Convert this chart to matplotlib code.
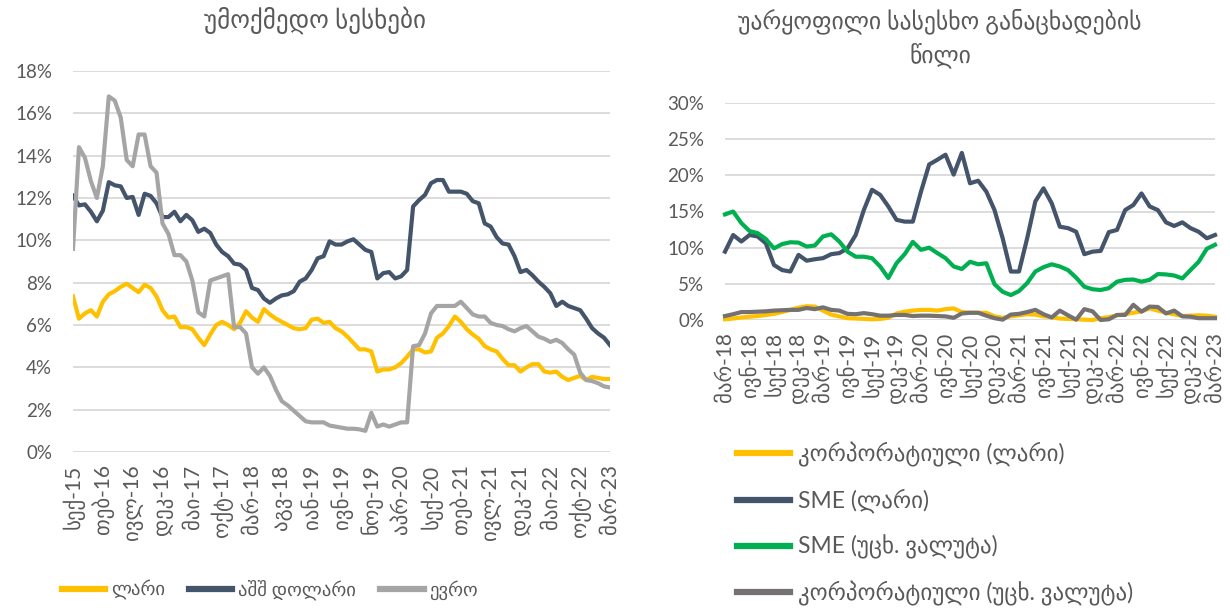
import matplotlib
matplotlib.use('Agg')
import matplotlib.pyplot as plt
import numpy as np
from matplotlib.ticker import PercentFormatter

plt.rcParams['font.family'] = ['Lato', 'DejaVu Sans']

TXT = '#595959'
GRID = '#D9D9D9'

# ---------------- left chart: non-performing loans (monthly, Sep-15 .. Mar-23)
left_title = 'უმოქმედო სესხები'
left_ticks = ['სექ-15', 'თებ-16', 'ივლ-16', 'დეკ-16', 'მაი-17', 'ოქტ-17', 'მარ-18',
              'აგვ-18', 'იან-19', 'ივნ-19', 'ნოე-19', 'აპრ-20', 'სექ-20', 'თებ-21',
              'ივლ-21', 'დეკ-21', 'მაი-22', 'ოქტ-22', 'მარ-23']
left_names = ['ლარი', 'აშშ დოლარი', 'ევრო']

gel = [7.35, 6.3, 6.55, 6.7, 6.4, 7.1, 7.45, 7.6, 7.8, 7.95,
       7.75, 7.55, 7.9, 7.75, 7.35, 6.7, 6.35, 6.4, 5.9, 5.9,
       5.8, 5.4, 5.05, 5.55, 6.0, 6.15, 6.0, 5.8, 6.1, 6.65,
       6.35, 6.15, 6.75, 6.5, 6.3, 6.15, 6.0, 5.85, 5.8, 5.85,
       6.25, 6.3, 6.1, 6.15, 5.85, 5.7, 5.45, 5.15, 4.85, 4.85,
       4.75, 3.8, 3.9, 3.9, 4.0, 4.2, 4.5, 4.85, 4.85, 4.7,
       4.75, 5.4, 5.6, 5.95, 6.4, 6.15, 5.8, 5.55, 5.35, 5.0,
       4.85, 4.75, 4.4, 4.1, 4.1, 3.8, 4.0, 4.15, 4.15, 3.8,
       3.75, 3.8, 3.55, 3.4, 3.5, 3.6, 3.4, 3.55, 3.5, 3.45,
       3.45]
usd = [12.1, 11.65, 11.7, 11.35, 10.9, 11.4, 12.75, 12.6, 12.55, 12.0,
       12.05, 11.2, 12.2, 12.1, 11.75, 11.1, 11.1, 11.35, 10.9, 11.2,
       10.95, 10.4, 10.55, 10.35, 9.8, 9.45, 9.25, 8.9, 8.85, 8.6,
       7.75, 7.65, 7.25, 7.05, 7.25, 7.4, 7.45, 7.6, 8.05, 8.2,
       8.6, 9.15, 9.25, 9.95, 9.8, 9.8, 9.95, 10.05, 9.8, 9.55,
       9.45, 8.2, 8.45, 8.5, 8.2, 8.3, 8.6, 11.6, 11.9, 12.15,
       12.7, 12.85, 12.85, 12.3, 12.3, 12.3, 12.2, 11.85, 11.75, 10.8,
       10.65, 10.15, 9.85, 9.8, 9.25, 8.5, 8.6, 8.35, 8.05, 7.8,
       7.5, 6.9, 7.1, 6.9, 6.8, 6.7, 6.3, 5.85, 5.6, 5.4,
       5.05]
eur = [9.6, 14.4, 13.9, 12.8, 12.0, 13.5, 16.8, 16.6, 15.8, 13.8,
       13.5, 15.0, 15.0, 13.5, 13.2, 10.8, 10.3, 9.3, 9.3, 9.0,
       8.1, 6.6, 6.4, 8.1, 8.2, 8.3, 8.4, 5.9, 5.9, 5.6,
       4.0, 3.7, 4.0, 3.6, 2.95, 2.4, 2.2, 1.95, 1.7, 1.45,
       1.4, 1.4, 1.4, 1.25, 1.2, 1.15, 1.1, 1.1, 1.07, 1.0,
       1.85, 1.2, 1.3, 1.2, 1.3, 1.4, 1.4, 5.0, 5.05, 5.6,
       6.55, 6.9, 6.9, 6.9, 6.9, 7.1, 6.8, 6.5, 6.4, 6.4,
       6.1, 6.0, 5.95, 5.8, 5.7, 5.85, 5.95, 5.7, 5.45, 5.35,
       5.2, 5.3, 5.15, 4.85, 4.6, 3.75, 3.4, 3.35, 3.25, 3.1,
       3.05]

# ---------------- right chart: share of rejected loan applications (monthly, Mar-18 .. Mar-23)
right_title = 'უარყოფილი სასესხო განაცხადების\nწილი'
right_ticks = ['მარ-18', 'ივნ-18', 'სექ-18', 'დეკ-18', 'მარ-19', 'ივნ-19', 'სექ-19',
               'დეკ-19', 'მარ-20', 'ივნ-20', 'სექ-20', 'დეკ-20', 'მარ-21', 'ივნ-21',
               'სექ-21', 'დეკ-21', 'მარ-22', 'ივნ-22', 'სექ-22', 'დეკ-22', 'მარ-23']
right_names = ['კორპორატიული (ლარი)', 'SME (ლარი)', 'SME (უცხ. ვალუტა)',
               'კორპორატიული (უცხ. ვალუტა)']

corp_gel = [0.1, 0.2, 0.35, 0.45, 0.55, 0.7, 0.85, 1.1, 1.4, 1.7,
            1.9, 1.85, 1.3, 0.75, 0.5, 0.25, 0.2, 0.15, 0.1, 0.15,
            0.3, 0.9, 1.15, 1.3, 1.4, 1.4, 1.3, 1.5, 1.6, 1.1,
            1.0, 1.0, 1.0, 0.5, 0.3, 0.5, 0.65, 0.8, 0.75, 0.5,
            0.4, 0.2, 0.15, 0.1, 0.05, 0.0, 0.25, 0.4, 0.65, 0.8,
            1.0, 1.2, 1.6, 1.3, 1.0, 0.8, 0.55, 0.6, 0.65, 0.6,
            0.45]
sme_gel = [9.45, 11.75, 10.85, 11.75, 11.55, 10.6, 7.6, 6.9, 6.7, 9.0,
           8.2, 8.4, 8.55, 9.1, 9.25, 9.9, 11.75, 15.2, 18.0, 17.3,
           15.7, 13.85, 13.6, 13.6, 17.75, 21.5, 22.15, 22.85, 20.1, 23.1,
           18.9, 19.25, 17.75, 15.2, 11.3, 6.7, 6.7, 11.3, 16.4, 18.2,
           16.15, 12.9, 12.7, 12.2, 9.1, 9.45, 9.55, 12.15, 12.45, 15.2,
           15.9, 17.5, 15.7, 15.2, 13.5, 13.0, 13.5, 12.7, 12.2, 11.3,
           11.75]
sme_fx = [14.6, 15.0, 13.4, 12.3, 12.0, 11.2, 9.9, 10.5, 10.75, 10.7,
          10.15, 10.3, 11.55, 11.85, 10.85, 9.45, 8.75, 8.75, 8.55, 7.4,
          5.8, 7.85, 9.1, 10.8, 9.7, 10.0, 9.25, 8.55, 7.4, 7.05,
          8.05, 7.7, 7.85, 4.95, 3.9, 3.45, 4.0, 5.1, 6.7, 7.3,
          7.7, 7.4, 6.9, 5.85, 4.6, 4.25, 4.15, 4.4, 5.3, 5.55,
          5.6, 5.3, 5.55, 6.35, 6.3, 6.15, 5.75, 6.9, 8.05, 9.85,
          10.4]
corp_fx = [0.55, 0.8, 1.1, 1.1, 1.15, 1.2, 1.3, 1.35, 1.4, 1.4,
           1.65, 1.5, 1.75, 1.4, 1.3, 0.85, 0.8, 0.95, 0.8, 0.6,
           0.6, 0.7, 0.7, 0.55, 0.6, 0.6, 0.55, 0.5, 0.3, 0.9,
           1.0, 1.0, 0.6, 0.25, 0.05, 0.75, 0.85, 1.1, 1.4, 0.8,
           0.35, 1.3, 0.65, 0.05, 1.5, 1.2, 0.0, 0.1, 0.7, 0.7,
           2.1, 1.15, 1.85, 1.8, 0.9, 1.3, 0.5, 0.45, 0.25, 0.25,
           0.25]

C_YEL = '#FFC000'
C_BLU = '#44546A'
C_GRY = '#A5A5A5'
C_GRN = '#00B050'
C_DGR = '#767171'

fig = plt.figure(figsize=(12.30, 6.12), dpi=100)


def style_axes(ax, ymax, ystep, ticks, tick_step, n):
    for s in ax.spines.values():
        s.set_visible(False)
    ax.set_ylim(0, ymax)
    ax.set_yticks(np.arange(0, ymax + 1e-9, ystep))
    ax.yaxis.set_major_formatter(PercentFormatter(100, decimals=0))
    ax.grid(axis='y', color=GRID, linewidth=1.3)
    ax.set_axisbelow(True)
    ax.set_xlim(0, n - 1)
    ax.set_xticks(np.arange(0, n, tick_step))
    ax.set_xticklabels(ticks, rotation=90)
    ax.tick_params(axis='y', length=0, pad=15, labelsize=13.5, labelcolor=TXT)
    ax.tick_params(axis='x', length=0, pad=9, labelsize=15, labelcolor=TXT)


# left
axL = fig.add_axes([73 / 1230, 1 - 452 / 612, (610 - 73) / 1230, (452 - 71) / 612])
xl = np.arange(len(gel))
lw = 3.0
axL.plot(xl, gel, color=C_YEL, lw=lw, label=left_names[0], solid_joinstyle='round')
axL.plot(xl, usd, color=C_BLU, lw=lw, label=left_names[1], solid_joinstyle='round')
axL.plot(xl, eur, color=C_GRY, lw=lw, label=left_names[2], solid_joinstyle='round')
style_axes(axL, 18, 2, left_ticks, 5, len(gel))
fig.text(315 / 1230, 1 - 20 / 612, left_title, ha='center', va='center',
         fontsize=18, color=TXT)
axL.legend(loc='center', bbox_to_anchor=(270 / 1230, 1 - 590 / 612),
           bbox_transform=fig.transFigure, ncol=3, frameon=False, fontsize=13.5,
           handlelength=2.3, handletextpad=0.3, columnspacing=1.3,
           labelcolor=TXT)
for h in axL.get_legend().get_lines():
    h.set_linewidth(4.5)

# right
axR = fig.add_axes([725 / 1230, 1 - 320 / 612, (1215 - 725) / 1230, (320 - 103) / 612])
xr = np.arange(len(sme_gel))
for vals, col, name in [(corp_gel, C_YEL, right_names[0]), (sme_gel, C_BLU, right_names[1]),
                        (sme_fx, C_GRN, right_names[2]), (corp_fx, C_DGR, right_names[3])]:
    axR.plot(xr, vals, color=col, lw=lw, label=name, clip_on=False, solid_joinstyle='round')
style_axes(axR, 30, 5, right_ticks, 3, len(sme_gel))
fig.text(940 / 1230, 1 - 38 / 612, right_title, ha='center', va='center',
         fontsize=17, color=TXT, linespacing=1.45)
axR.legend(loc='center left', bbox_to_anchor=(737 / 1230, 1 - 524 / 612),
           bbox_transform=fig.transFigure, ncol=1, frameon=False, fontsize=16.5,
           handlelength=2.3, handletextpad=0.35, labelspacing=0.95,
           borderpad=0, borderaxespad=0, labelcolor=TXT)
for h in axR.get_legend().get_lines():
    h.set_linewidth(4.5)

fig.savefig('out.png', dpi=100)
